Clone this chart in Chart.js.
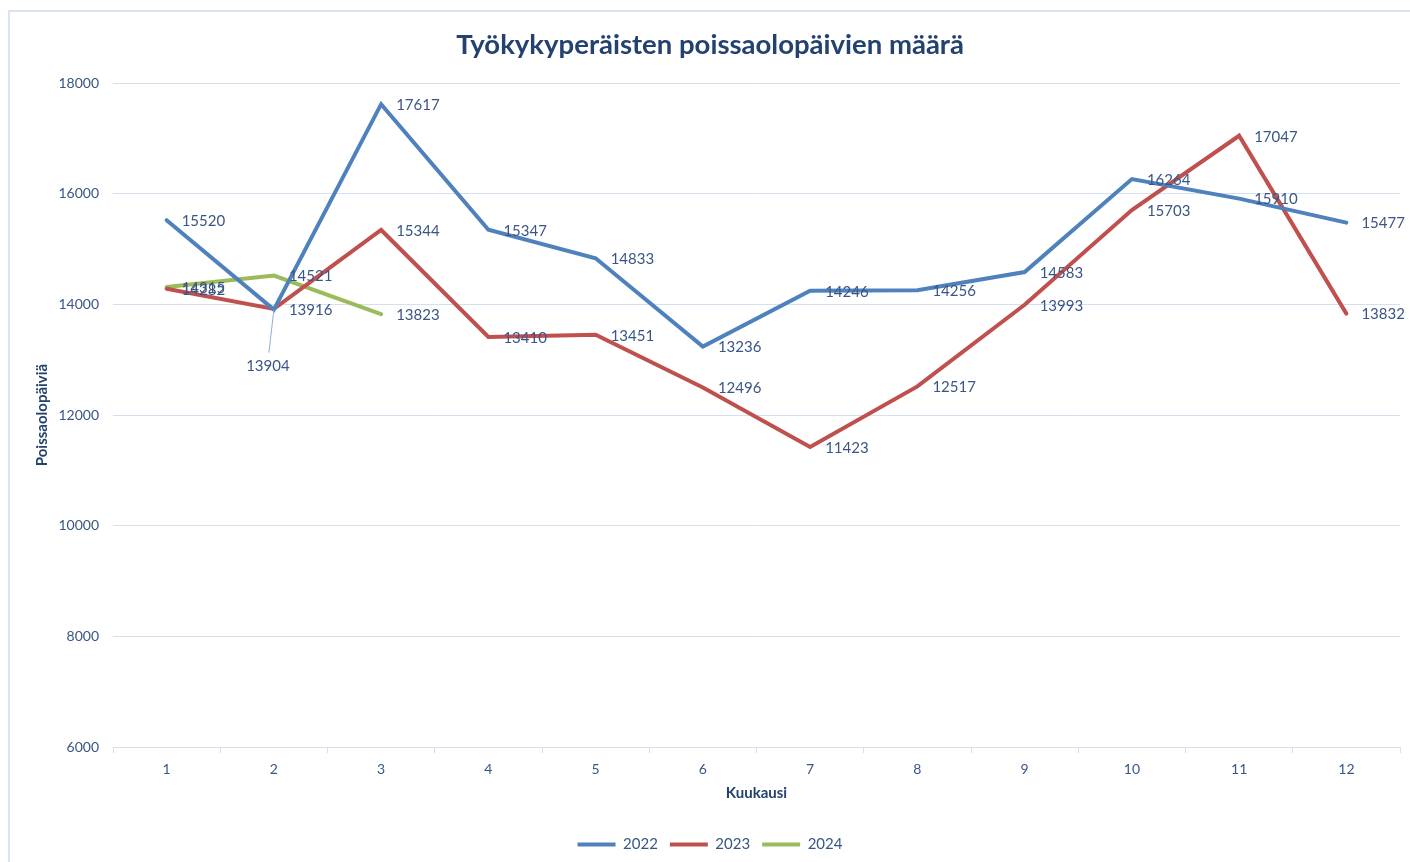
<!DOCTYPE html>
<html>
<head>
<meta charset="utf-8">
<script src="https://cdn.jsdelivr.net/npm/chart.js@4"></script>
<style>
  body { margin: 0; background: #fff; }
  #frame { position: absolute; left: 8px; top: 10px; width: 1410px; height: 862px; border: 2px solid #dbe5f1; box-sizing: border-box; }
  #wrap { position: absolute; left: 0; top: 0; width: 1410px; height: 862px; }
</style>
</head>
<body>
<div id="frame"></div>
<div id="wrap"><canvas id="chart" width="1410" height="862"></canvas></div>
<script>
  const months = ["1", "2", "3", "4", "5", "6", "7", "8", "9", "10", "11", "12"];
  const values2022 = [15520, 13904, 17617, 15347, 14833, 13236, 14246, 14256, 14583, 16264, 15910, 15477];
  const values2023 = [14282, 13916, 15344, 13410, 13451, 12496, 11423, 12517, 13993, 15703, 17047, 13832];
  const values2024 = [14315, 14521, 13823];
  const yTicks = [6000, 8000, 10000, 12000, 14000, 16000, 18000];

  const textColor = "#3a5684";
  const titleColor = "#23426f";
  const gridColor = "#d5e0ee";
  const fontFamily = "Lato, 'Open Sans', sans-serif";

  // label moved below its point, with a leader line (as in the original)
  const movedLabels = { "0-1": { dx: -6, dy: 57 } };

  const dataLabels = {
    id: "dataLabels",
    afterDatasetsDraw(chart) {
      const ctx = chart.ctx;
      ctx.save();
      ctx.font = "15px " + fontFamily;
      ctx.fillStyle = textColor;
      ctx.textBaseline = "middle";
      chart.data.datasets.forEach((ds, di) => {
        const meta = chart.getDatasetMeta(di);
        meta.data.forEach((pt, i) => {
          const moved = movedLabels[di + "-" + i];
          const text = String(ds.data[i]);
          if (moved) {
            ctx.strokeStyle = "#8fb0d8";
            ctx.lineWidth = 1;
            ctx.beginPath();
            ctx.moveTo(pt.x, pt.y);
            ctx.lineTo(pt.x + moved.dx + 1, pt.y + moved.dy - 14);
            ctx.stroke();
            ctx.textAlign = "center";
            ctx.fillText(text, pt.x + moved.dx, pt.y + moved.dy);
          } else {
            ctx.textAlign = "left";
            ctx.fillText(text, pt.x + 15, pt.y + 1);
          }
        });
      });
      ctx.restore();
    },
  };

  const makeSet = (label, data, color) => ({
    label,
    data,
    borderColor: color,
    backgroundColor: color,
    borderWidth: 4,
    borderCapStyle: "round",
    pointRadius: 0,
    tension: 0,
  });

  new Chart(document.getElementById("chart").getContext("2d"), {
    type: "line",
    data: {
      labels: months,
      datasets: [
        makeSet("2022", values2022, "#4f81bd"),
        makeSet("2023", values2023, "#c0504d"),
        makeSet("2024", values2024, "#9bbb59"),
      ],
    },
    plugins: [dataLabels],
    options: {
      responsive: false,
      animation: false,
      layout: { padding: { left: 20, right: 10, top: 0, bottom: 0 } },
      plugins: {
        tooltip: { enabled: false },
        title: {
          display: true,
          text: "Työkykyperäisten poissaolopäivien määrä",
          color: titleColor,
          font: { family: fontFamily, size: 27.5, weight: "bold" },
          padding: { top: 29, bottom: 21 },
        },
        legend: {
          position: "bottom",
          labels: {
            usePointStyle: true,
            pointStyle: "line",
            pointStyleWidth: 38,
            color: textColor,
            font: { family: fontFamily, size: 15 },
            padding: 12,
          },
        },
      },
      scales: {
        x: {
          offset: true,
          grid: { offset: true, drawOnChartArea: false, drawTicks: true, tickLength: 6, color: gridColor },
          border: { color: gridColor },
          ticks: { color: textColor, font: { family: fontFamily, size: 14 }, padding: 8 },
          title: {
            display: true,
            text: "Kuukausi",
            color: titleColor,
            font: { family: fontFamily, size: 15, weight: "bold" },
            padding: { top: 6, bottom: 23 },
          },
          afterFit: (s) => { s.height = 78; },
        },
        y: {
          min: 6000,
          max: 18000,
          afterBuildTicks: (s) => { s.ticks = yTicks.map((v) => ({ value: v })); },
          grid: { color: gridColor, drawTicks: false },
          border: { display: false },
          ticks: {
            color: textColor,
            font: { family: fontFamily, size: 14 },
            padding: 14,
            callback: (v) => String(v),
          },
          title: {
            display: true,
            text: "Poissaolopäiviä",
            color: titleColor,
            font: { family: fontFamily, size: 15, weight: "bold" },
            padding: { top: 13, bottom: 0 },
          },
          afterFit: (s) => { s.width = 93; },
        },
      },
    },
  });
</script>
</body>
</html>
